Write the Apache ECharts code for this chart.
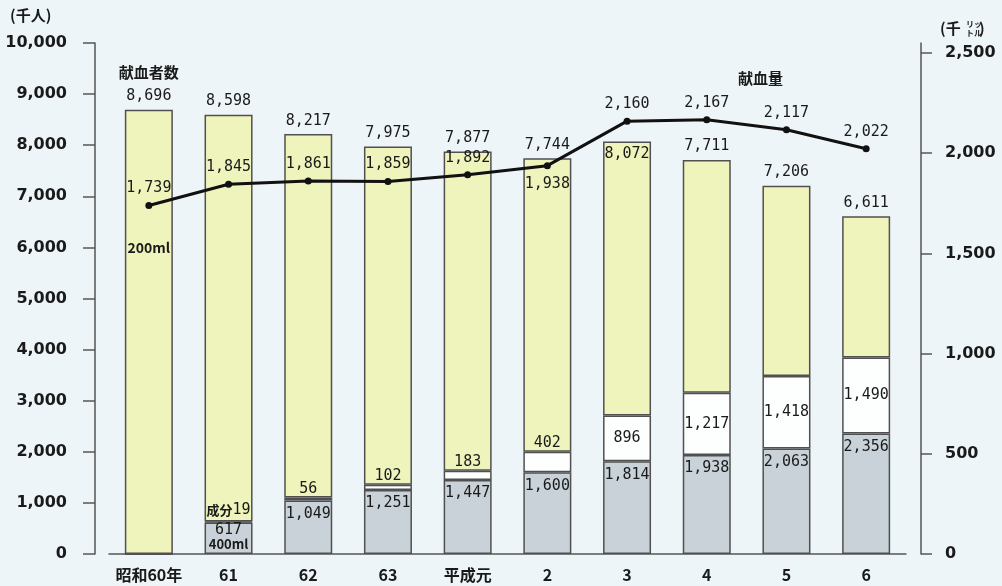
<!DOCTYPE html>
<html><head><meta charset="utf-8">
<script src="https://cdn.jsdelivr.net/npm/echarts@6/dist/echarts.min.js"></script>
<style>html,body{margin:0;padding:0;background:#edf5f8}#c{width:1002px;height:586px}</style>
</head><body><div id="c"></div>
<script>
const categories = ['昭和60年','61','62','63','平成元','2','3','4','5','6'];
const totals = [8696, 8598, 8217, 7975, 7877, 7744, 8072, 7711, 7206, 6611];
const ml400 = [0, 617, 1049, 1251, 1447, 1600, 1814, 1938, 2063, 2356];
const component = [0, 19, 56, 102, 183, 402, 896, 1217, 1418, 1490];
const volume = [1739, 1845, 1861, 1859, 1892, 1938, 2160, 2167, 2117, 2022];
const leftTicks = [0,1000,2000,3000,4000,5000,6000,7000,8000,9000,10000];
const rightTicks = [0,500,1000,1500,2000,2500];

const ml200 = totals.map((t,i)=>t-ml400[i]-component[i]);
const fmt = v => v.toLocaleString('en-US');
const NUM = '"DejaVu Sans Mono", monospace';
const JP = '"Noto Sans CJK JP", sans-serif';
const lbl = {color:'#1a1a1a', fontFamily:NUM, fontSize:15};

const grayData = ml400.map((v,i)=>{
  if (v===0) return {value:v, label:{show:false}};
  if (i===1) return {value:v, label:{show:true, position:'insideTop', distance:1, formatter:fmt(v)+'\n{s|400ml}', lineHeight:14, rich:{s:{fontFamily:JP, fontSize:13, fontWeight:'bold', color:'#1a1a1a'}}, ...lbl}};
  return {value:v, label:{show:true, position:'insideTop', distance:6, formatter:fmt(v), ...lbl}};
});
const compData = component.map((v,i)=>{
  if (v===0) return {value:v, label:{show:false}};
  if (i===1) return {value:v, label:{show:true, position:'top', distance:4, formatter:'{s|成分}'+v, rich:{s:{fontFamily:JP, fontSize:13, fontWeight:'bold', color:'#1a1a1a'}}, ...lbl}};
  if (i<6) return {value:v, label:{show:true, position:'top', distance:1, formatter:fmt(v), ...lbl}};
  return {value:v, label:{show:true, position:'inside', formatter:fmt(v), ...lbl}};
});
const yellowData = ml200.map((v,i)=>{
  if (i===6) return {value:v, label:{show:true, position:'insideTop', distance:5, formatter:fmt(totals[i]), ...lbl}};
  return {value:v, label:{show:true, position:'top', distance:6, formatter:fmt(totals[i]), ...lbl}};
});
const lineData = volume.map((v,i)=>({value:v, label:{show:true, position: i===5?'bottom':'top', distance:i===5?7:6, formatter:fmt(v), ...lbl}}));

const border = {borderColor:'#505050', borderWidth:1.5};
const mpBase = {symbol:'circle', symbolSize:2, itemStyle:{color:'transparent', borderWidth:0}};
const chart = echarts.init(document.getElementById('c'));
chart.setOption({
  backgroundColor:'#edf5f8',
  animation:false,
  grid:{left:109, right:96, top:43, bottom:32},
  xAxis:{type:'category', data:categories,
    axisLine:{show:true, lineStyle:{color:'#555', width:1.5}},
    axisTick:{show:false},
    axisLabel:{interval:0, margin:13, color:'#1a1a1a', fontFamily:JP, fontSize:16, fontWeight:'bold'}},
  yAxis:[
    {type:'value', min:0, max:10000, interval:1000, position:'left', offset:14,
      axisLine:{show:true, lineStyle:{color:'#555', width:1.5}},
      axisTick:{show:true, inside:false, length:12, lineStyle:{color:'#555', width:1.5}},
      splitLine:{show:false},
      axisLabel:{margin:28, color:'#1a1a1a', fontFamily:'"DejaVu Sans", sans-serif', fontSize:16, fontWeight:'bold', formatter:v=>fmt(v)}},
    {type:'value', min:0, max:2550, interval:500, position:'right', offset:15,
      axisLine:{show:true, lineStyle:{color:'#555', width:1.5}},
      axisTick:{show:true, inside:false, length:11, customValues:rightTicks, lineStyle:{color:'#555', width:1.5}},
      splitLine:{show:false},
      axisLabel:{margin:24, customValues:rightTicks, color:'#1a1a1a', fontFamily:'"DejaVu Sans", sans-serif', fontSize:16, fontWeight:'bold', formatter:v=>fmt(v)}}
  ],
  series:[
    {type:'bar', name:'400ml', stack:'a', barWidth:48, data:grayData,
      itemStyle:{color:'#c8d2d8', ...border}},
    {type:'bar', name:'成分', stack:'a', barWidth:48, data:compData,
      itemStyle:{color:'#fdfefe', ...border}},
    {type:'bar', name:'200ml', stack:'a', barWidth:48, data:yellowData,
      itemStyle:{color:'#eef4bc', ...border},
      markPoint:{...mpBase, silent:true, data:[
        {coord:[0, 6000], label:{show:true, position:'inside', formatter:'200ml', color:'#1a1a1a', fontFamily:JP, fontSize:14, fontWeight:'bold'}},
        {coord:[0, 9430], label:{show:true, position:'inside', formatter:'献血者数', color:'#1a1a1a', fontFamily:JP, fontSize:15, fontWeight:'bold'}}
      ]}},
    {type:'line', name:'献血量', yAxisIndex:1, data:lineData, symbol:'circle', symbolSize:7,
      lineStyle:{color:'#111', width:3}, itemStyle:{color:'#111'}, z:5,
      markPoint:{...mpBase, silent:true, data:[
        {coord:[8, 2375], label:{show:true, position:'inside', offset:[-26,0], formatter:'献血量', color:'#1a1a1a', fontFamily:JP, fontSize:15, fontWeight:'bold'}}
      ]}}
  ],
  graphic:[
    {type:'text', left:10, top:8, style:{text:'(千人)', fontFamily:JP, fontSize:15, fontWeight:'bold', fill:'#1a1a1a'}},
    {type:'text', left:940, top:21, style:{text:'(千', fontFamily:JP, fontSize:15, fontWeight:'bold', fill:'#1a1a1a'}},
    {type:'text', left:966, top:19, style:{text:'リッ\nトル', fontFamily:JP, fontSize:8, lineHeight:9, fontWeight:'bold', fill:'#1a1a1a'}},
    {type:'text', left:979, top:21, style:{text:')', fontFamily:JP, fontSize:15, fontWeight:'bold', fill:'#1a1a1a'}}
  ]
});
</script></body></html>
